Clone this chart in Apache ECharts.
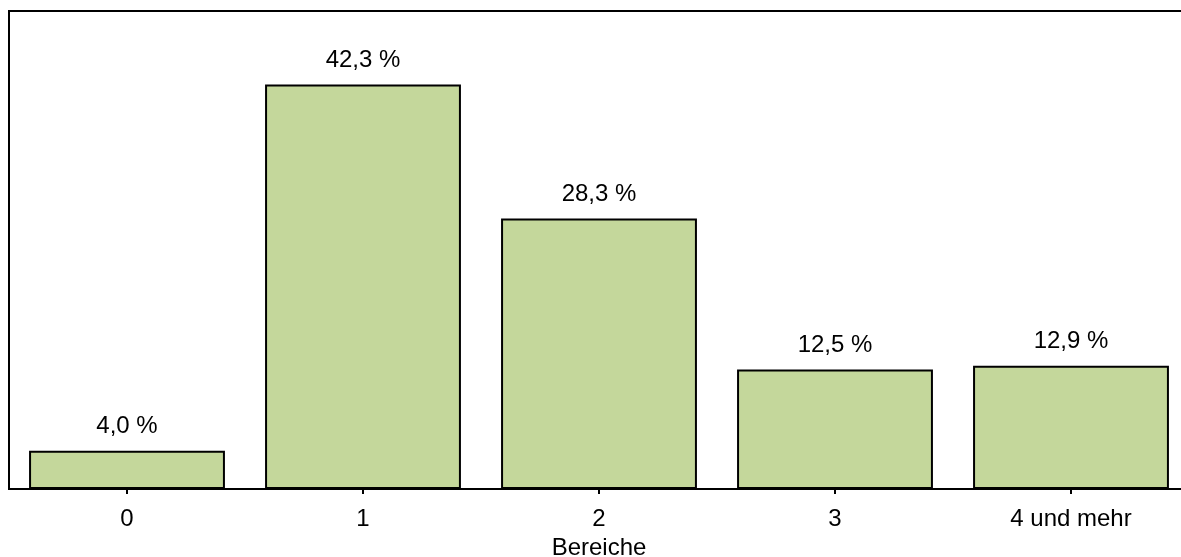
<!DOCTYPE html>
<html>
<head>
<meta charset="utf-8">
<script src="https://cdn.jsdelivr.net/npm/echarts@6/dist/echarts.min.js"></script>
<style>
html,body{margin:0;padding:0;background:#fff;}
#chart{width:1181px;height:557px;}
</style>
</head>
<body>
<div id="chart"></div>
<script>
const categories = ['0', '1', '2', '3', '4 und mehr'];
const values = [4.0, 42.3, 28.3, 12.5, 12.9];
const axisName = 'Bereiche';

const chart = echarts.init(document.getElementById('chart'), null, {renderer: 'canvas'});
const fontFamily = '"Liberation Sans", Arial, sans-serif';
chart.setOption({
  animation: false,
  backgroundColor: '#ffffff',
  grid: {
    left: 9, width: 1180, top: 11, height: 478,
    outerBoundsMode: 'none',
    containLabel: false,
    show: true, borderColor: '#000', borderWidth: 2, backgroundColor: 'transparent'
  },
  xAxis: {
    type: 'category',
    data: categories,
    name: axisName,
    nameLocation: 'middle',
    nameGap: 40,
    nameTextStyle: {color: '#000', fontSize: 24, fontFamily: fontFamily},
    axisLine: {show: true, lineStyle: {color: '#000', width: 2}},
    axisTick: {show: true, alignWithLabel: true, length: 5, lineStyle: {color: '#000', width: 2}},
    axisLabel: {color: '#000', fontSize: 24, fontFamily: fontFamily, margin: 18},
    splitLine: {show: false}
  },
  yAxis: {
    type: 'value',
    min: 0, max: 50,
    axisLine: {show: true, lineStyle: {color: '#000', width: 2}},
    axisTick: {show: false},
    axisLabel: {show: false},
    splitLine: {show: false}
  },
  series: [{
    type: 'bar',
    data: values,
    barWidth: '83%',
    itemStyle: {color: '#C4D79B', borderColor: '#000', borderWidth: 2},
    label: {
      show: true, position: 'top', distance: 12,
      color: '#000', fontSize: 24, fontFamily: fontFamily,
      formatter: p => p.value.toFixed(1).replace('.', ',') + ' %'
    }
  }]
});
</script>
</body>
</html>
